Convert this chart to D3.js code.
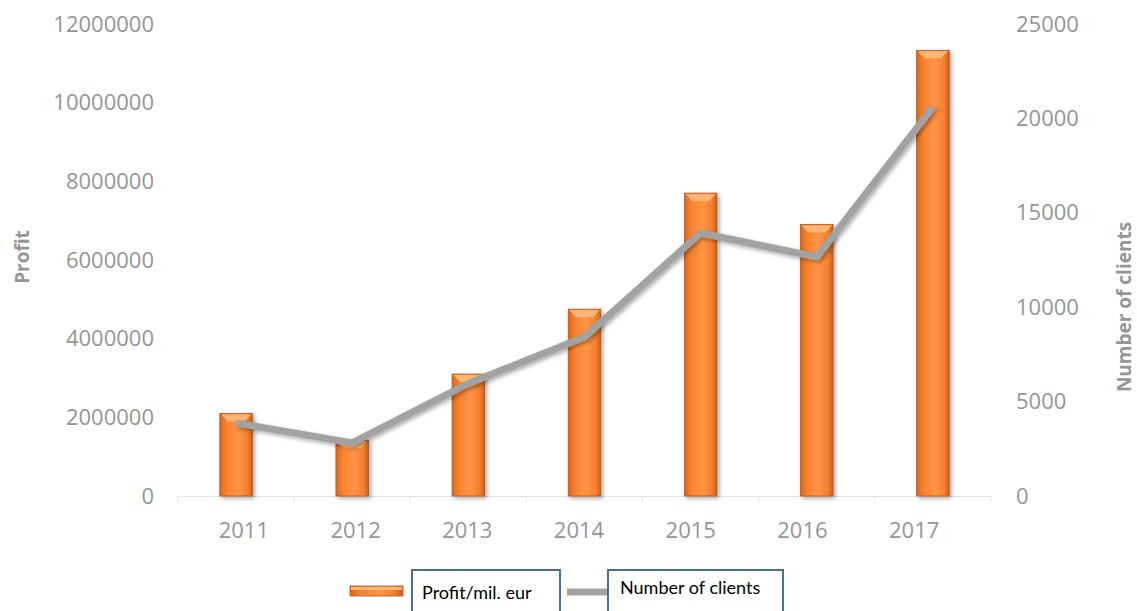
<!DOCTYPE html>
<html>
<head>
<meta charset="utf-8">
<script src="https://cdn.jsdelivr.net/npm/d3@7"></script>
<style>
  body { margin: 0; background: #fff; }
</style>
</head>
<body>
<div id="chartContainer"></div>
<script>
// Chart data
const years = ["2011", "2012", "2013", "2014", "2015", "2016", "2017"];
const profit = [2100000, 1420000, 3100000, 4750000, 7700000, 6900000, 11330000];
const clients = [3870, 2810, 5960, 8420, 13930, 12660, 20600];
const profitTicks = [0, 2000000, 4000000, 6000000, 8000000, 10000000, 12000000];
const clientTicks = [0, 5000, 10000, 15000, 20000, 25000];

const w = 1137;
const h = 611;

const plot = { left: 178, right: 991, top: 24, bottom: 496 };
const axisColor = "#959595";

const svg = d3.select("#chartContainer")
  .append("svg")
    .attr("width", w)
    .attr("height", h);

const defs = svg.append("defs");

// horizontal gradient for the bars (darker edges, lighter centre)
const grad = defs.append("linearGradient")
  .attr("id", "barGrad")
  .attr("x1", "0%").attr("x2", "100%").attr("y1", "0%").attr("y2", "0%");
grad.append("stop").attr("offset", "0%").attr("stop-color", "#d8661a");
grad.append("stop").attr("offset", "20%").attr("stop-color", "#f9822e");
grad.append("stop").attr("offset", "55%").attr("stop-color", "#ff9446");
grad.append("stop").attr("offset", "85%").attr("stop-color", "#f47f2c");
grad.append("stop").attr("offset", "100%").attr("stop-color", "#c85e18");

const shadow = defs.append("filter")
  .attr("id", "shadow")
  .attr("x", "-30%").attr("y", "-10%").attr("width", "160%").attr("height", "130%");
shadow.append("feDropShadow")
  .attr("dx", 2).attr("dy", 2)
  .attr("stdDeviation", 2)
  .attr("flood-color", "#000")
  .attr("flood-opacity", 0.35);

// Scales
const xScale = d3.scaleBand()
  .domain(years)
  .range([plot.left, plot.right])
  .paddingInner(0.72)
  .paddingOuter(0.36);

// year labels sit on a slightly narrower spread in the picture
const xLabelScale = d3.scaleBand()
  .domain(years)
  .range([188, 970]);

const yLeft = d3.scaleLinear()
  .domain([0, 12000000])
  .range([plot.bottom, plot.top]);

const yRight = d3.scaleLinear()
  .domain([0, 25000])
  .range([plot.bottom, plot.top]);

// Baseline with small separators
svg.append("line")
  .attr("x1", plot.left).attr("x2", plot.right)
  .attr("y1", plot.bottom + 0.5).attr("y2", plot.bottom + 0.5)
  .attr("stroke", "#e3e3e3");

svg.selectAll(".sep")
  .data(years.concat(["end"]))
  .enter()
  .append("line")
    .attr("class", "sep")
    .attr("x1", (d, i) => plot.left + i * xScale.step())
    .attr("x2", (d, i) => plot.left + i * xScale.step())
    .attr("y1", plot.bottom)
    .attr("y2", plot.bottom + 6)
    .attr("stroke", "#e3e3e3");

// Left axis
svg.append("g")
  .attr("transform", "translate(154,0)")
  .call(d3.axisLeft(yLeft).tickValues(profitTicks).tickSize(0).tickPadding(0).tickFormat(d3.format("d")))
  .call(g => g.select(".domain").remove())
  .selectAll("text")
    .attr("fill", axisColor)
    .attr("font-family", "Open Sans")
    .attr("font-size", 22);

// Right axis
svg.append("g")
  .attr("transform", "translate(1016,0)")
  .call(d3.axisRight(yRight).tickValues(clientTicks).tickSize(0).tickPadding(0).tickFormat(d3.format("d")))
  .call(g => g.select(".domain").remove())
  .selectAll("text")
    .attr("fill", axisColor)
    .attr("font-family", "Open Sans")
    .attr("font-size", 22);

// Year labels
svg.append("g")
  .attr("transform", `translate(0, ${plot.bottom + 22})`)
  .call(d3.axisBottom(xLabelScale).tickSize(0).tickPadding(4))
  .call(g => g.select(".domain").remove())
  .selectAll("text")
    .attr("fill", axisColor)
    .attr("font-family", "Open Sans")
    .attr("font-size", 22);

// Axis titles
svg.append("text")
  .text("Profit")
  .attr("transform", `translate(29, 257) rotate(-90)`)
  .attr("text-anchor", "middle")
  .attr("font-family", "Open Sans")
  .attr("font-weight", "bold")
  .attr("font-size", 19)
  .attr("fill", axisColor);

svg.append("text")
  .text("Number of clients")
  .attr("transform", `translate(1131, 307) rotate(-90)`)
  .attr("text-anchor", "middle")
  .attr("font-family", "Open Sans")
  .attr("font-weight", "bold")
  .attr("font-size", 19)
  .attr("fill", axisColor);

// Bars
const bars = svg.append("g");

bars.selectAll(".bar")
  .data(years)
  .enter()
  .append("rect")
    .attr("class", "bar")
    .attr("x", d => xScale(d))
    .attr("y", (d, i) => yLeft(profit[i]))
    .attr("width", xScale.bandwidth())
    .attr("height", (d, i) => yLeft(0) - yLeft(profit[i]))
    .attr("fill", "url(#barGrad)")
    .attr("stroke", "#b4561a")
    .attr("stroke-width", 0.8)
    .attr("filter", "url(#shadow)");

// bevelled top of each bar
const bevel = 8;
bars.selectAll(".bevel")
  .data(years)
  .enter()
  .append("path")
    .attr("class", "bevel")
    .attr("d", (d, i) => {
      const x0 = xScale(d), x1 = x0 + xScale.bandwidth(), y0 = yLeft(profit[i]);
      return `M${x0 + 1},${y0 + 1} L${x1 - 1},${y0 + 1} L${x1 - bevel},${y0 + bevel} L${x0 + bevel},${y0 + bevel} Z`;
    })
    .attr("fill", "#ffb574");

// Clients line
const line = d3.line()
  .x((d, i) => xScale(years[i]) + xScale.bandwidth() / 2)
  .y(d => yRight(d));

svg.append("path")
  .datum(clients)
  .attr("d", line)
  .attr("fill", "none")
  .attr("stroke", "#a2a2a2")
  .attr("stroke-width", 7)
  .attr("stroke-linejoin", "miter")
  .attr("filter", "url(#shadow)");

// Legend
const legend = svg.append("g");

legend.append("rect")
  .attr("x", 350).attr("y", 586)
  .attr("width", 53).attr("height", 10)
  .attr("fill", "url(#barGrad)")
  .attr("stroke", "#b4561a")
  .attr("stroke-width", 0.8);
legend.append("rect")
  .attr("x", 351).attr("y", 587)
  .attr("width", 51).attr("height", 3)
  .attr("fill", "#ffb574");

legend.append("line")
  .attr("x1", 567).attr("x2", 609)
  .attr("y1", 592).attr("y2", 592)
  .attr("stroke", "#a2a2a2")
  .attr("stroke-width", 7);

legend.append("rect")
  .attr("x", 412).attr("y", 570)
  .attr("width", 148).attr("height", 50)
  .attr("fill", "#fff")
  .attr("stroke", "#41719c")
  .attr("stroke-width", 2);
legend.append("text")
  .text("Profit/mil. eur")
  .attr("x", 422).attr("y", 599)
  .attr("font-family", "Lato")
  .attr("font-size", 18)
  .attr("fill", "#000");

legend.append("rect")
  .attr("x", 608).attr("y", 570)
  .attr("width", 175).attr("height", 50)
  .attr("fill", "#fff")
  .attr("stroke", "#41719c")
  .attr("stroke-width", 2);
legend.append("text")
  .text("Number of clients")
  .attr("x", 620).attr("y", 594)
  .attr("font-family", "Lato")
  .attr("font-size", 18)
  .attr("fill", "#000");
</script>
</body>
</html>
